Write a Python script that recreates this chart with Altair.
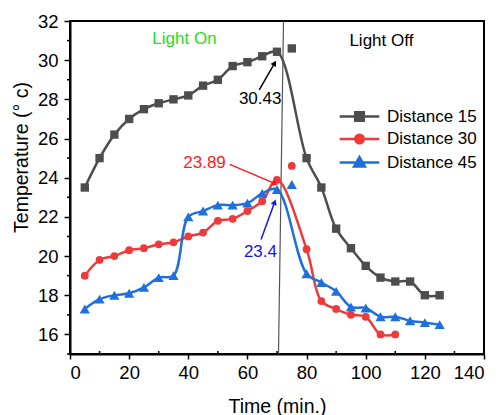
import altair as alt
import numpy as np
import pandas as pd

# ---- measured temperatures (°C) against time (min) ----
time_d15 = [5, 10, 15, 20, 25, 30, 35, 40, 45, 50, 55, 60, 65, 70,
            80, 85, 90, 95, 100, 105, 110, 115, 120, 125]
temp_d15 = [23.5, 25.0, 26.2, 27.0, 27.5, 27.8, 28.0, 28.2, 28.7, 29.0, 29.7, 29.9, 30.2, 30.43,
            25.0, 23.5, 21.4, 20.4, 19.5, 18.9, 18.7, 18.7, 18.0, 18.0]

time_d30 = [5, 10, 15, 20, 25, 30, 35, 40, 45, 50, 55, 60, 65, 70,
            80, 85, 90, 95, 100, 105, 110]
temp_d30 = [19.0, 19.8, 20.0, 20.3, 20.4, 20.6, 20.7, 21.0, 21.2, 21.8, 21.9, 22.3, 22.8, 23.89,
            20.35, 17.7, 17.3, 17.0, 16.9, 16.0, 16.0]

time_d45 = [5, 10, 15, 20, 25, 30, 35, 40, 45, 50, 55, 60, 65, 70,
            80, 85, 90, 95, 100, 105, 110, 115, 120, 125]
temp_d45 = [17.3, 17.8, 18.0, 18.1, 18.4, 18.9, 19.0, 22.0, 22.3, 22.6, 22.6, 22.7, 23.2, 23.4,
            19.1, 18.65, 18.2, 17.4, 17.35, 16.9, 16.9, 16.7, 16.6, 16.5]

# readings taken at 75 min, shown as markers only
time_extra = [75, 75, 75]
temp_extra = [30.6, 24.6, 23.65]

series_names = ["Distance 15", "Distance 30", "Distance 45"]
series_colors = ["#4d4d4d", "#ee3a3a", "#1f6fdc"]
series_shapes = ["square", "circle", "triangle-up"]

# light switched off (slightly slanted divider)
divider_t = [70.5, 72.2]
divider_T = [15.0, 32.0]

# peak annotations
note_text = ["30.43", "23.89", "23.4"]
note_t = [64.3, 45.5, 64.4]
note_T = [28.02, 24.75, 20.2]
note_colors = ["#000000", "#ff1a1a", "#1414f0"]
arrow_t0 = [64.0, 54.0, 64.6]
arrow_T0 = [28.48, 24.68, 20.85]
arrow_t1 = [69.2, 69.4, 69.2]
arrow_T1 = [29.85, 23.7, 22.75]

phase_text = ["Light On", "Light Off"]
phase_t = [38.7, 105.3]
phase_T = [31.08, 30.98]
phase_colors = ["#22dd22", "#000000"]

x_ticks = list(range(0, 141, 20))
x_minor = list(range(10, 140, 20))
y_ticks = list(range(16, 33, 2))
y_minor = list(range(15, 32, 2))

X_DOMAIN = [0, 140]
Y_DOMAIN = [15, 32]
W, H = 414, 333
FONT = "Liberation Sans"

x_enc = alt.X("t:Q", scale=alt.Scale(domain=X_DOMAIN, nice=False, zero=False),
              axis=alt.Axis(values=x_ticks, title="Time (min.)", tickSize=5, labelPadding=4,
                            titleY=52, titleBaseline="middle"))
y_enc = alt.Y("T:Q", scale=alt.Scale(domain=Y_DOMAIN, nice=False, zero=False),
              axis=alt.Axis(values=y_ticks, title="Temperature (\u00b0 c)", tickSize=6, labelPadding=6,
                            titleAngle=270, titleX=-49, titleY=136, titleAlign="center",
                            titleBaseline="middle"))

layers = []

# divider
div_df = pd.DataFrame({"t": [divider_t[0]], "T": [divider_T[0]],
                       "t2": [divider_t[1]], "T2": [divider_T[1]]})
layers.append(alt.Chart(div_df).mark_rule(color="#555555", strokeWidth=1.2).encode(
    x=x_enc, y=y_enc, x2="t2:Q", y2="T2:Q"))

# minor ticks
xm_df = pd.DataFrame({"t": x_minor})
layers.append(alt.Chart(xm_df).mark_rule(color="black", strokeWidth=1.5).encode(
    x=x_enc, y=alt.value(H - 3), y2=alt.value(H)))
ym_df = pd.DataFrame({"T": y_minor})
layers.append(alt.Chart(ym_df).mark_rule(color="black", strokeWidth=1.5).encode(
    y=y_enc, x=alt.value(-3), x2=alt.value(0)))

series = [(time_d15, temp_d15), (time_d30, temp_d30), (time_d45, temp_d45)]
marker_sizes = [70, 60, 105]
rows = []
for i, (ts, vs) in enumerate(series):
    df = pd.DataFrame({"t": ts, "T": vs})
    layers.append(alt.Chart(df).mark_line(color=series_colors[i], strokeWidth=2.5,
                                          interpolate="catmull-rom").encode(x=x_enc, y=y_enc))
    pts = pd.DataFrame({"t": ts + [time_extra[i]], "T": vs + [temp_extra[i]]})
    layers.append(alt.Chart(pts).mark_point(filled=True, opacity=1, shape=series_shapes[i],
                                            color=series_colors[i], size=marker_sizes[i]).encode(
        x=x_enc, y=y_enc))
    for t, v in zip(ts, vs):
        rows.append({"t": t, "T": v, "series": series_names[i]})
all_df = pd.DataFrame(rows)

# legend: line with marker in each symbol
legend_paths = [
    "M-4.4,0H4.4M-0.95,-0.95H0.95V0.95H-0.95Z",
    "M-4.4,0H4.4M0.95,0A0.95,0.95,0,1,1,-0.95,0A0.95,0.95,0,1,1,0.95,0Z",
    "M-4.4,0H4.4M0,-1.2L1.2,0.9H-1.2Z",
]
leg = alt.Legend(orient="none", legendX=281, legendY=87, title=None, labelFont=FONT,
                 labelFontSize=17, labelColor="black", symbolSize=81, symbolStrokeWidth=2.5,
                 symbolOpacity=1, labelOffset=19, rowPadding=3.5, padding=0)
layers.append(alt.Chart(all_df).mark_point(filled=True, opacity=0).encode(
    x=x_enc, y=y_enc,
    color=alt.Color("series:N", scale=alt.Scale(domain=series_names, range=series_colors), legend=leg),
    stroke=alt.Stroke("series:N", scale=alt.Scale(domain=series_names, range=series_colors), legend=leg),
    shape=alt.Shape("series:N", scale=alt.Scale(domain=series_names, range=legend_paths), legend=leg),
))

# arrows
px_x = W / (X_DOMAIN[1] - X_DOMAIN[0])
px_y = H / (Y_DOMAIN[1] - Y_DOMAIN[0])
dx = (np.array(arrow_t1) - np.array(arrow_t0)) * px_x
dy = -(np.array(arrow_T1) - np.array(arrow_T0)) * px_y
ang = (np.degrees(np.arctan2(dx, -dy)) + 360) % 360
arr_df = pd.DataFrame({"t": arrow_t0, "T": arrow_T0, "t2": arrow_t1, "T2": arrow_T1,
                       "col": note_colors, "ang": ang})
layers.append(alt.Chart(arr_df).mark_rule(strokeWidth=1.5).encode(
    x=x_enc, y=y_enc, x2="t2:Q", y2="T2:Q", color=alt.Color("col:N", scale=None)))
head_df = pd.DataFrame({"t": arrow_t1, "T": arrow_T1, "col": note_colors, "ang": ang})
layers.append(alt.Chart(head_df).mark_point(shape="triangle-up", filled=True, size=40, opacity=1).encode(
    x=x_enc, y=y_enc, color=alt.Color("col:N", scale=None), angle=alt.Angle("ang:Q", scale=None)))

# texts
note_df = pd.DataFrame({"t": note_t, "T": note_T, "txt": note_text, "col": note_colors})
layers.append(alt.Chart(note_df).mark_text(font=FONT, fontSize=17, align="center", baseline="middle").encode(
    x=x_enc, y=y_enc, text="txt:N", color=alt.Color("col:N", scale=None)))
phase_df = pd.DataFrame({"t": phase_t, "T": phase_T, "txt": phase_text, "col": phase_colors})
layers.append(alt.Chart(phase_df).mark_text(font=FONT, fontSize=17, align="center", baseline="middle").encode(
    x=x_enc, y=y_enc, text="txt:N", color=alt.Color("col:N", scale=None)))

chart = alt.layer(*layers).properties(
    width=W, height=H,
    padding={"left": 70, "top": 21, "right": 18, "bottom": 61},
    autosize=alt.AutoSizeParams(type="none"),
    background="white",
).configure_view(stroke="black", strokeWidth=2).configure_axis(
    grid=False, labelFont=FONT, titleFont=FONT, labelFontSize=18.5, titleFontSize=19.5,
    titleFontWeight="normal", labelColor="black", titleColor="black",
    domainColor="black", domainWidth=2, tickColor="black", tickWidth=1.5,
)

chart.save("out.html", embed_options={"renderer": "svg", "actions": False})
